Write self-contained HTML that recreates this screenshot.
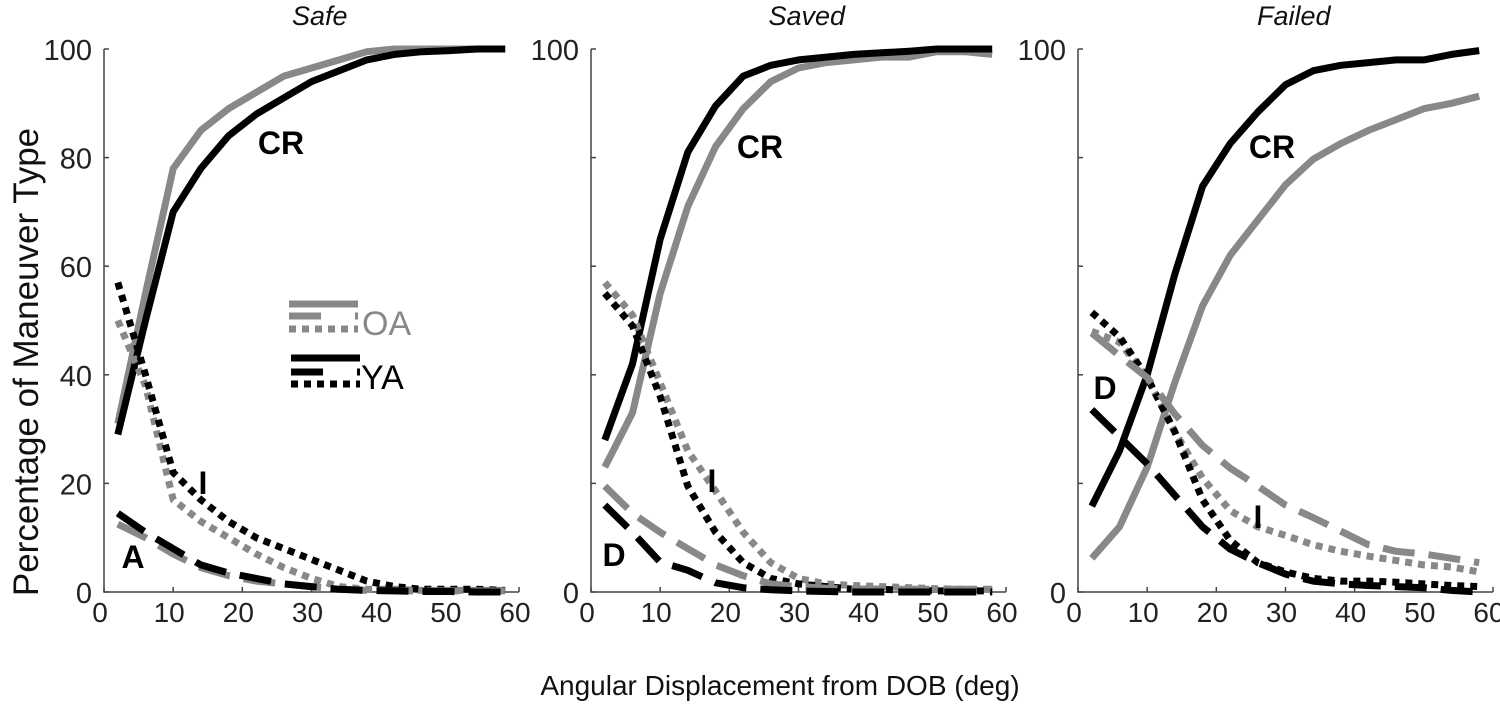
<!DOCTYPE html>
<html><head><meta charset="utf-8"><style>
html,body{margin:0;padding:0;background:#fff;}
svg{display:block;font-family:"Liberation Sans",sans-serif;}
</style></head><body>
<svg id="chart" width="1500" height="705" viewBox="0 0 1500 705" xmlns="http://www.w3.org/2000/svg">
<text x="0" y="0" transform="translate(38,362) rotate(-90)" text-anchor="middle" font-size="35" fill="#111">Percentage of Maneuver Type</text>
<text x="780" y="695" text-anchor="middle" font-size="28" fill="#111">Angular Displacement from DOB (deg)</text>
<g id="panels"></g>
<g>
<line x1="289" y1="304" x2="358" y2="304" stroke="#888" stroke-width="7"/>
<line x1="289" y1="316" x2="358" y2="316" stroke="#888" stroke-width="7" stroke-dasharray="32 34 4"/>
<line x1="289" y1="329" x2="358" y2="329" stroke="#888" stroke-width="7" stroke-dasharray="7 6"/>
<text x="362" y="335" font-size="34" fill="#888">OA</text>
<line x1="291" y1="358" x2="360" y2="358" stroke="#000" stroke-width="7"/>
<line x1="291" y1="372" x2="360" y2="372" stroke="#000" stroke-width="7" stroke-dasharray="32 34 4"/>
<line x1="291" y1="384" x2="360" y2="384" stroke="#000" stroke-width="7" stroke-dasharray="7 6"/>
<text x="361" y="389" font-size="34" fill="#000">YA</text>
</g>
</svg>
<script>
const xs = [2,6,10,14,18,22,26,30,34,38,42,46,50,54,58];
const titles = ["Safe","Saved","Failed"];
const xTicks = [0,10,20,30,40,50,60];
const yTicks = [0,20,40,60,80,100];
// Safe
const safeOaCR = [31,55,78,85,89,92,95,96.5,98,99.5,100,100,100,100,100];
const safeYaCR = [29,50,70,78,84,88,91,94,96,98,99,99.5,99.7,100,100];
const safeOaI = [50,38,17,13,10,7,4.5,2.5,1,0.5,0.5,0.3,0.3,0.3,0.3];
const safeYaI = [57,40,22,17,13,10,8,6,4,2,1,0.5,0.5,0.5,0.3];
const safeOaA = [12.5,10,7,4.5,3,2,1.5,1,0.5,0.3,0.2,0.2,0.2,0.2,0.2];
const safeYaA = [14.5,11,8,5,3.5,2.5,1.5,1,0.5,0.3,0.2,0.1,0.1,0,0];
// Saved
const savedOaCR = [23,33,55,71,82,89,94,96.5,97.5,98,98.5,98.5,99.5,99.5,99];
const savedYaCR = [28,42,65,81,89.5,95,97,98,98.5,99,99.3,99.6,100,100,100];
const savedOaI = [57,51,38.5,26,18.6,11,5.4,2.5,1.5,1.2,1,0.8,0.6,0.5,0.5];
const savedYaI = [55,49,36,19.5,11,5.4,2.5,1.5,1,0.5,0.5,0.3,0.2,0.2,0.2];
const savedOaD = [19.5,14.5,11,8,5,3,1.5,1,0.7,0.5,0.5,0.5,0.5,0.5,0.5];
const savedYaD = [16,11,5.5,4,1.7,0.8,0.4,0.2,0.1,0,0,0,0,0,0];
// Failed
const failedOaCR = [6.2,12,23,38.6,52.7,62,68.5,75,79.7,82.6,85,87,89,90,91.3];
const failedYaCR = [15.8,26,40,58.5,74.7,82.6,88.4,93.4,96,97,97.5,98,98,99,99.7];
const failedOaI = [48,46,39.5,29.5,21,15,12,10.4,8.7,7.5,6.6,5.8,5,4.6,3.7];
const failedYaI = [51.5,47,39.5,29.5,17,9.5,5.4,3.7,2.5,2,2,1.8,1.5,1.2,1];
const failedOaD = [47.7,43.5,39.5,32.8,27,22.8,19.5,16,13.7,11.2,8.7,7.5,7,6.2,5.4];
const failedYaD = [33.6,28.6,23.6,17.8,12,7.9,5.4,3.3,2,1.5,1.2,1,0.8,0.3,0];

const NS = "http://www.w3.org/2000/svg";
const root = document.getElementById("panels");
const panelX0 = [104, 591, 1078];
const panelW = 415, axisEnd = 415;
const yTop = 49, yBot = 592;
const panels = [
 {key:"safe", series:[[safeOaCR,"#888","none"],[safeYaCR,"#000","none"],[safeOaI,"#888","dot"],[safeYaI,"#000","dot"],[safeOaA,"#888","dash"],[safeYaA,"#000","dash"]],
  labels:[["CR",281,154],["I",203,494],["A",133,568]], allY:true},
 {key:"saved", series:[[savedOaCR,"#888","none"],[savedYaCR,"#000","none"],[savedOaI,"#888","dot"],[savedYaI,"#000","dot"],[savedOaD,"#888","dash"],[savedYaD,"#000","dash"]],
  labels:[["CR",760,158],["I",712,492],["D",614,566]], allY:false},
 {key:"failed", series:[[failedOaCR,"#888","none"],[failedYaCR,"#000","none"],[failedOaI,"#888","dot"],[failedYaI,"#000","dot"],[failedOaD,"#888","dash"],[failedYaD,"#000","dash"]],
  labels:[["CR",1272,158],["I",1258,528],["D",1105,399]], allY:false}
];
function mk(tag, attrs){const e=document.createElementNS(NS,tag);for(const k in attrs)e.setAttribute(k,attrs[k]);return e;}
panels.forEach((p,i)=>{
  const x0 = panelX0[i];
  const sx = v => x0 + v/60*panelW;
  const sy = v => yBot - v/100*(yBot-yTop);
  const g = mk("g",{});
  
  
  root.appendChild(g);
  const t = mk("text",{x:x0+panelW*0.52,y:25,"text-anchor":"middle","font-size":"27","font-style":"italic",fill:"#111"});
  
  
  t.textContent = titles[i]; g.appendChild(t);
  const ax = mk("path",{d:`M${x0},${yTop} L${x0},${yBot} L${x0+axisEnd},${yBot}`,fill:"none",stroke:"#444","stroke-width":"1.5"});
  
  
  g.appendChild(ax);
  xTicks.forEach(v=>{
    const l = mk("line",{x1:sx(v),x2:sx(v),y1:yBot,y2:yBot-5,stroke:"#444","stroke-width":"1.5"});
    
    
    g.appendChild(l);
    const tx = mk("text",{x:sx(v)-4,y:yBot+30,"text-anchor":"middle","font-size":"28",fill:"#222"});
    
    
    tx.textContent = v; g.appendChild(tx);
  });
  yTicks.forEach(v=>{
    const l = mk("line",{x1:x0,x2:x0+5,y1:sy(v),y2:sy(v),stroke:"#444","stroke-width":"1.5"});
    
    
    g.appendChild(l);
    if(p.allY || v===0 || v===100){
      const ty = mk("text",{x:x0-12,y:sy(v)+11,"text-anchor":"end","font-size":"29",fill:"#222"});
      
      
      ty.textContent = v; g.appendChild(ty);
    }
  });
  p.series.forEach(s=>{
    const [vals,col,style] = s;
    const d = vals.map((v,j)=>(j?"L":"M")+sx(xs[j]).toFixed(1)+","+sy(v).toFixed(1)).join(" ");
    const a = {d:d,fill:"none",stroke:col,"stroke-width":"7","stroke-linejoin":"round"};
    if(style==="dot") a["stroke-dasharray"]="7 6";
    if(style==="dash") a["stroke-dasharray"]="32 14";
    const path = mk("path",a);
    
    
    g.appendChild(path);
  });
  p.labels.forEach(lb=>{
    const tl = mk("text",{x:lb[1],y:lb[2],"text-anchor":"middle","font-size":"32","font-weight":"bold",fill:"#000"});
    
    
    tl.textContent = lb[0]; g.appendChild(tl);
  });
});
</script>
</body></html>
